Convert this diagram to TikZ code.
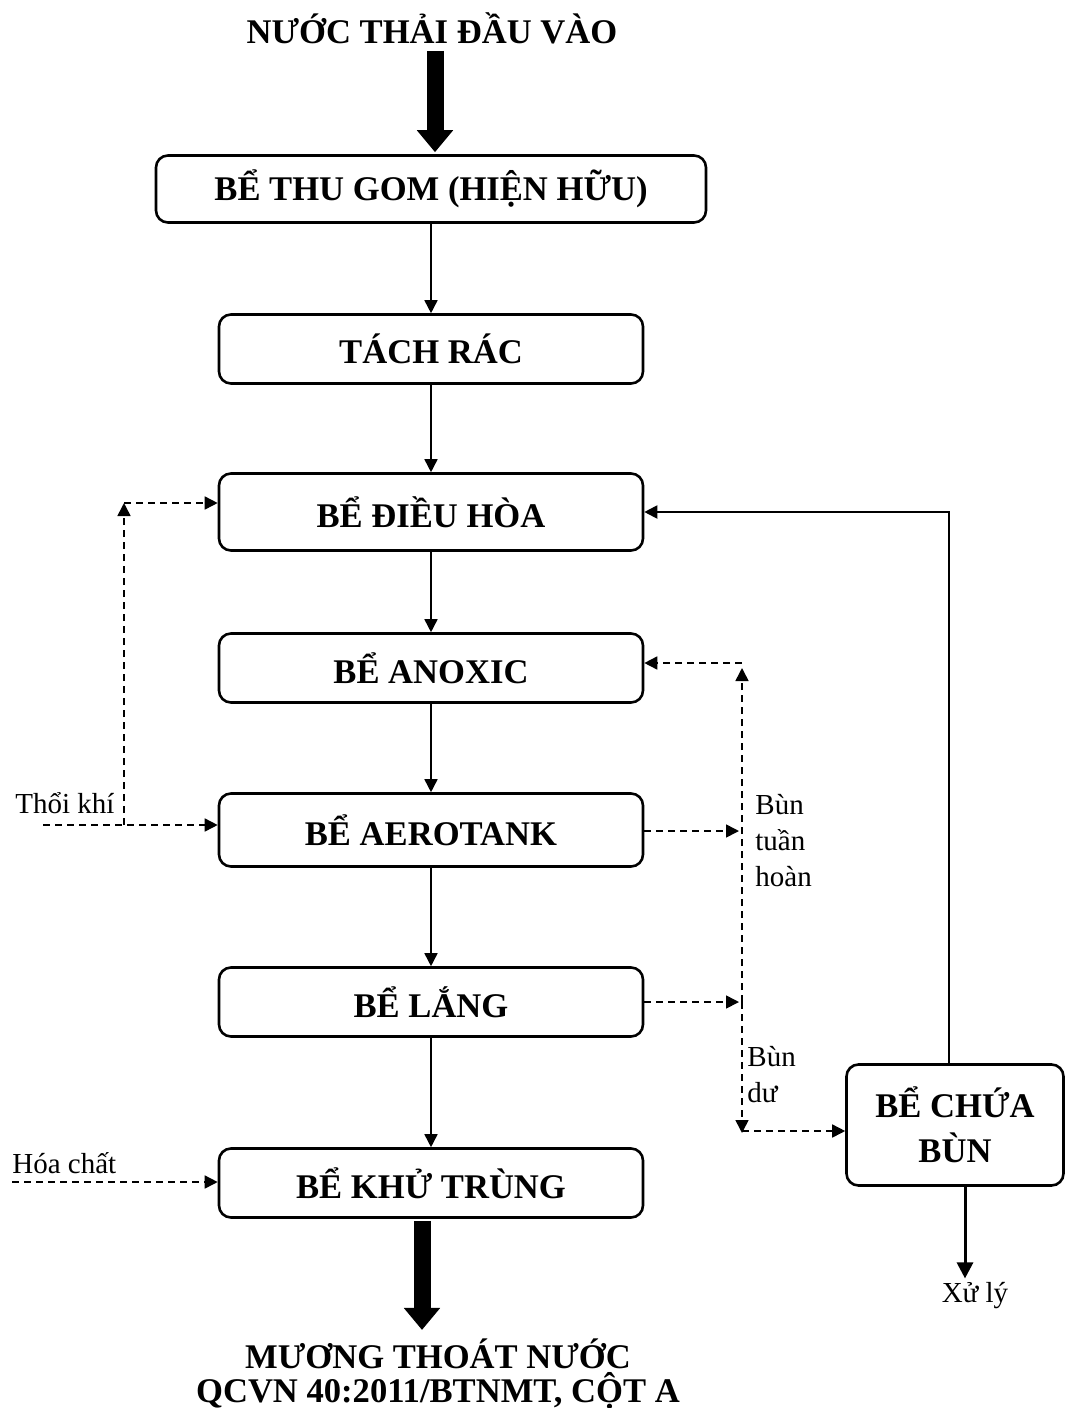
\documentclass[tikz,border=0pt]{standalone}
\usepackage{fontspec}
\setmainfont{Liberation Serif}
\usetikzlibrary{arrows.meta, positioning, calc}

\begin{document}
\begin{tikzpicture}[x=0.5pt, y=-0.5pt,
  stage/.style={rectangle, rounded corners=6pt, draw, line width=1.3pt, minimum width=212pt,
                minimum height=34.5pt, align=center, inner sep=0pt,
                font=\bfseries\fontsize{17.3}{22.5}\selectfont},
  arrow/.style={-{Triangle[length=6.5pt,width=6.5pt]}, line width=0.8pt},
  dasharrow/.style={arrow, dash pattern=on 3.5pt off 2.5pt},
  bigarrow/.style={-{Triangle[length=11pt,width=17.5pt]}, line width=8.5pt},
  note/.style={font=\fontsize{14.5}{18}\selectfont, inner sep=0pt, align=left},
  heading/.style={font=\bfseries\fontsize{17.3}{18.5}\selectfont, inner sep=0pt}
]
\useasboundingbox (0,0) rectangle (1066,1408);

% main line
\node[heading, anchor=base] (dauvao) at (432,43) {NƯỚC THẢI ĐẦU VÀO};
\node[stage, minimum width=275pt, minimum height=33.5pt] (thugom) at (431,189) {BỂ THU GOM (HIỆN HỮU)};
\node[stage] (tachrac) at (431,349) {TÁCH RÁC};
\node[stage, minimum height=38.5pt] (dieuhoa) at (431,512) {BỂ ĐIỀU HÒA};
\node[stage] (anoxic) at (431,668) {BỂ ANOXIC};
\node[stage, minimum height=36.5pt] (aerotank) at (431,830) {BỂ AEROTANK};
\node[stage] (lang) at (431,1002) {BỂ LẮNG};
\node[stage] (khutrung) at (431,1183) {BỂ KHỬ TRÙNG};
\node[heading, anchor=base] (daura) at (438,1368) {MƯƠNG THOÁT NƯỚC};
\node[heading, anchor=base] (quychuan) at (438,1402) {QCVN 40:2011/BTNMT, CỘT A};

\node[stage, minimum width=108.5pt, minimum height=60.5pt] (chuabun) at (955,1125) {BỂ CHỨA\\BÙN};
\node[note, anchor=base] (xuly) at (975,1302) {Xử lý};

\draw[bigarrow] ($(thugom.north |- dauvao.south)+(4,7)$) -- ($(thugom.north)+(4,-2)$);
\foreach \a/\b in {thugom/tachrac, tachrac/dieuhoa, dieuhoa/anoxic, anoxic/aerotank,
                   aerotank/lang, lang/khutrung}
  \draw[arrow] (\a) -- (\b);
\draw[bigarrow] ($(khutrung.south)+(-9,2)$) -- ($(khutrung.south |- daura.north)+(-9,-8)$);

% air and chemicals
\node[note, anchor=base west] (thoikhi) at (15,813) {Thổi khí};
\node[note, anchor=base west] (hoachat) at (12,1173) {Hóa chất};
\coordinate (k1) at (43,825);
\coordinate (k2) at (124,825);
\coordinate (k3) at (124,503);
\coordinate (h1) at (12,1182);
\draw[dasharrow] (k1) -- (k1 -| aerotank.west);
\draw[dasharrow] (k2) -- (k3);
\draw[dasharrow] (k3) -- (k3 -| dieuhoa.west);
\draw[dasharrow] (h1) -- (h1 -| khutrung.west);

% sludge
\coordinate (r1) at (742,663);
\coordinate (r2) at (742,831);
\coordinate (r3) at (742,1002);
\coordinate (r4) at (742,1131);
\draw[dasharrow] (aerotank.east |- r2) -- ($(r2)+(-3,0)$);
\draw[dasharrow] (lang.east |- r3) -- ($(r3)+(-3,0)$);
\draw[dasharrow] (r3) -- ($(r1)+(0,5)$);
\draw[dasharrow] (r3) -- ($(r4)+(0,2)$);
\draw[dasharrow] (r1) -- (r1 -| anoxic.east);
\draw[dasharrow] (r4) -- (r4 -| chuabun.west);
\node[note, anchor=north west] (tuanhoan) at (755,794) {Bùn\\tuần\\hoàn};
\node[note, anchor=north west] (bundu) at (747,1046) {Bùn\\dư};

\draw[arrow, line width=1pt] ($(chuabun.north)+(-6,0)$) |- (dieuhoa.east);
\draw[-{Triangle[length=8pt,width=8pt]}, line width=1.5pt]
  ($(chuabun.south)+(10,0)$) -- ($(chuabun.south |- xuly.north)+(10,-3)$);
\end{tikzpicture}
\end{document}
